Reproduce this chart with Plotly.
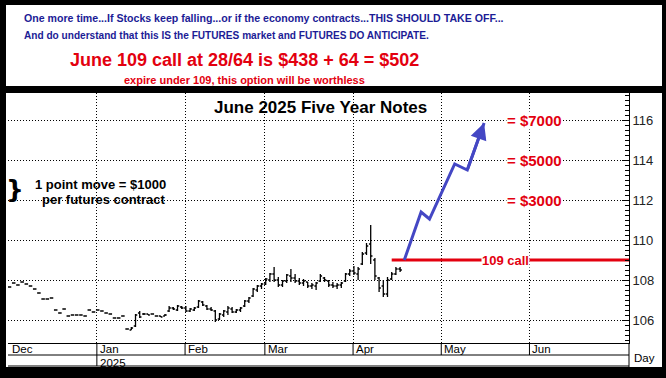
import pandas as pd
import plotly.graph_objects as go

# ---------------- data ----------------
first_bar_date = "2024-12-02"
holidays = ["2024-12-25", "2025-01-01", "2025-01-20", "2025-02-17",
            "2025-04-18", "2025-05-26", "2025-06-19", "2025-07-04"]

bar_high = [107.65, 107.85, 107.75, 107.9, 107.8, 107.7, 107.55, 107.35, 107.05, 107.05, 107.1,
            106.5, 106.35, 106.55, 106.2, 106.25, 106.25, 106.25, 106.2, 106.5, 106.4,
            106.5, 106.45, 106.35, 106.3, 106.1, 106.1, 106.2, 105.55, 105.65, 106.3, 106.45,
            106.35, 106.3, 106.3, 106.2, 106.2, 106.3, 106.7, 106.65, 106.75, 106.7,
            106.7, 106.6, 106.65, 107.0, 106.95, 106.75, 106.65, 106.5, 106.35, 106.5,
            106.7, 106.65, 106.55, 106.65, 107.0, 107.15, 107.6, 107.75, 107.85,
            108.1, 108.35, 108.65, 108.15, 108.0, 108.3, 108.55, 108.3, 108.1, 108.05,
            107.9, 107.85, 107.9, 108.3, 108.15, 108.0, 107.9, 107.85, 107.9, 108.35, 108.55,
            108.7, 108.65, 109.4, 109.85, 110.75, 109.1, 108.15, 108.0, 108.15, 108.4, 108.65, 108.65]
bar_low = [107.65, 107.85, 107.75, 107.9, 107.8, 107.7, 107.55, 107.35, 107.05, 107.05, 107.1,
           106.5, 106.35, 106.55, 106.2, 106.25, 106.25, 106.25, 106.2, 106.5, 106.4,
           106.5, 106.45, 106.35, 106.3, 106.1, 106.1, 106.2, 105.55, 105.5, 105.65, 106.1,
           106.25, 106.25, 106.3, 106.2, 106.15, 106.2, 106.4, 106.5, 106.45, 106.55,
           106.4, 106.4, 106.45, 106.6, 106.7, 106.5, 106.45, 105.9, 106.0, 106.15,
           106.25, 106.35, 106.35, 106.4, 106.65, 106.85, 107.15, 107.4, 107.55,
           107.75, 107.9, 107.9, 107.65, 107.65, 107.85, 107.9, 107.85, 107.75, 107.7,
           107.6, 107.55, 107.5, 107.9, 107.9, 107.65, 107.6, 107.55, 107.6, 107.9, 108.2,
           108.25, 108.0, 108.75, 109.25, 108.8, 108.0, 107.4, 107.15, 107.15, 108.0, 108.25, 108.4]
bar_open = [107.65, 107.85, 107.75, 107.9, 107.8, 107.7, 107.55, 107.35, 107.05, 107.05, 107.1,
            106.5, 106.35, 106.55, 106.2, 106.25, 106.25, 106.25, 106.2, 106.5, 106.4,
            106.5, 106.45, 106.35, 106.3, 106.1, 106.1, 106.2, 105.55, 105.5, 105.7, 106.35,
            106.3, 106.3, 106.3, 106.2, 106.2, 106.2, 106.45, 106.6, 106.5, 106.65,
            106.6, 106.45, 106.5, 106.65, 106.9, 106.7, 106.55, 106.45, 106.05, 106.25,
            106.4, 106.55, 106.4, 106.5, 106.7, 106.95, 107.2, 107.5, 107.7,
            107.8, 108.0, 108.3, 108.0, 107.75, 107.95, 108.2, 108.1, 107.95, 107.85,
            107.9, 107.7, 107.7, 107.95, 108.1, 107.95, 107.75, 107.7, 107.75, 107.95, 108.3,
            108.45, 108.3, 108.8, 109.35, 109.8, 109.0, 108.1, 107.7, 107.3, 108.05, 108.3, 108.55]
bar_close = [107.65, 107.85, 107.75, 107.9, 107.8, 107.7, 107.55, 107.35, 107.05, 107.05, 107.1,
             106.5, 106.35, 106.55, 106.2, 106.25, 106.25, 106.25, 106.2, 106.5, 106.4,
             106.5, 106.45, 106.35, 106.3, 106.1, 106.1, 106.2, 105.55, 105.6, 106.25, 106.15,
             106.3, 106.25, 106.3, 106.2, 106.15, 106.25, 106.6, 106.55, 106.7, 106.6,
             106.45, 106.55, 106.6, 106.95, 106.75, 106.55, 106.5, 106.0, 106.3, 106.45,
             106.6, 106.4, 106.5, 106.6, 106.95, 107.1, 107.55, 107.7, 107.8,
             108.05, 108.3, 108.0, 107.75, 107.95, 108.25, 108.1, 107.95, 107.85, 107.95,
             107.7, 107.75, 107.85, 108.2, 108.0, 107.75, 107.7, 107.75, 107.85, 108.3, 108.45,
             108.35, 108.55, 109.3, 109.7, 109.2, 108.2, 107.6, 107.3, 108.0, 108.3, 108.55, 108.5]

strike = 109
call_line_start = "2025-04-14"
call_label_date = "2025-05-22"
point_value = 1000
target_levels = [112, 114, 116]
target_label_date = "2025-06-03"

arrow_dates = ["2025-04-17", "2025-04-24", "2025-04-28", "2025-05-06", "2025-05-09", "2025-05-15"]
arrow_values = [109.0, 111.4, 111.05, 113.8, 113.5, 115.85]

month_labels = ["Dec", "Jan", "Feb", "Mar", "Apr", "May", "Jun"]
month_starts = ["2024-12-01", "2025-01-01", "2025-02-01", "2025-03-01",
                "2025-04-01", "2025-05-01", "2025-06-01"]
year_label = "2025"
y_ticks = [106, 108, 110, 112, 114, 116]

# ---------------- trading-day scale ----------------
days = [d for d in pd.bdate_range(first_bar_date, "2025-07-20")
        if d.strftime("%Y-%m-%d") not in holidays]


def pos(date_str):
    t = pd.Timestamp(date_str)
    for i, d in enumerate(days):
        if d >= t:
            return i
    return len(days) - 1


bar_x = list(range(len(bar_high)))
month_pos = [pos(m) - 0.2 for m in month_starts]

BLUE_TXT = "#1c1c96"
RED = "#e3000f"
ARROW = "#4447c4"
FONT = "Liberation Sans, Arial, sans-serif"

# plot area in pixels: x 8..629, y 93..343
PL, PR, PT, PB = 8, 629, 93, 343
W, H = 666, 378


def px(xp):
    return (xp - PL) / (PR - PL)


def py(yp):
    return (PB - yp) / (PB - PT)


fig = go.Figure()

fig.add_trace(go.Ohlc(
    x=bar_x, open=bar_open, high=bar_high, low=bar_low, close=bar_close,
    increasing=dict(line=dict(color="black", width=1.3)),
    decreasing=dict(line=dict(color="black", width=1.3)),
    tickwidth=0.42, showlegend=False, hoverinfo="skip"))

# 109 call line
fig.add_trace(go.Scatter(
    x=[pos(call_line_start), pos("2025-07-20")], y=[strike, strike],
    mode="lines", line=dict(color=RED, width=3), showlegend=False, hoverinfo="skip"))

# blue projection arrow
ax_pts = [pos(d) for d in arrow_dates]
fig.add_trace(go.Scatter(
    x=ax_pts, y=arrow_values,
    mode="lines", line=dict(color=ARROW, width=3), showlegend=False, hoverinfo="skip"))

annotations = []
annotations.append(dict(
    x=ax_pts[-1], y=arrow_values[-1], ax=ax_pts[-2], ay=arrow_values[-2],
    xref="x", yref="y", axref="x", ayref="y", text="", showarrow=True,
    arrowhead=2, arrowsize=1.1, arrowwidth=3, arrowcolor=ARROW))


def note(x, y, text, size, color, xanchor="center", xref="paper", yref="paper",
         family=FONT, bg=None, xshift=0):
    d = dict(x=x, y=y, xref=xref, yref=yref, text=text, showarrow=False,
             xanchor=xanchor, yanchor="middle", xshift=xshift,
             font=dict(family=family, size=size, color=color))
    if bg:
        d.update(bgcolor=bg, borderpad=0)
    annotations.append(d)


note(pos(call_label_date), strike, "<b>%d call</b>" % strike, 13, RED,
     xref="x", yref="y", bg="white")
for lvl in target_levels:
    note(pos(target_label_date), lvl, "<b>= $%d</b>" % ((lvl - strike) * point_value), 15, RED,
         xref="x", yref="y", bg="white")

# chart title and notes
note(px(320), py(107), "<b>June 2025 Five Year Notes</b>", 17, "black")
note(px(33), py(184), "<b>1 point move = $%d</b>" % point_value, 13, "black", xanchor="left")
note(px(40), py(199), "<b>per futures contract</b>", 13, "black", xanchor="left")
note(px(15), py(189), "<b>}</b>", 25, "black", family="DejaVu Sans")

# header texts
note(px(22), py(18),
     "<b>One more time...If Stocks keep falling...or if the economy contracts...THIS SHOULD TAKE OFF...</b>",
     10.6, BLUE_TXT, xanchor="left")
note(px(22), py(35),
     "<b>And do understand that this IS the FUTURES market and FUTURES DO ANTICIPATE.</b>",
     10.1, BLUE_TXT, xanchor="left")
note(px(244), py(60), "<b>June 109 call at 28/64 is $438 + 64 = $502</b>", 18, RED)
note(px(244), py(80), "<b>expire under 109, this option will be worthless</b>", 11, RED)

# month / year labels in the bottom strip
for lab, mp in zip(month_labels, month_pos):
    note(max(mp, -0.3), py(348.5), lab, 11.5, "black", xanchor="left", xref="x", xshift=1)
note(month_pos[1], py(362.5), year_label, 11.5, "black", xanchor="left", xref="x", xshift=1)
note(px(645), py(358), "Day", 11.5, "black")

shapes = []
# strip lines
for yp in (355, 366):
    shapes.append(dict(type="line", xref="paper", yref="paper", x0=0, x1=1,
                       y0=py(yp), y1=py(yp), line=dict(color="black", width=1)))
for i, mp in enumerate(month_pos[1:], start=1):
    y_end = py(366) if i == 1 else py(355)
    shapes.append(dict(type="line", xref="x", yref="paper", x0=mp, x1=mp,
                       y0=0, y1=y_end, line=dict(color="black", width=1)))
shapes.append(dict(type="line", xref="paper", yref="paper", x0=1, x1=1,
                   y0=py(368), y1=0, line=dict(color="black", width=1)))
# black frame
frame = [(0, 0, 666, 5), (0, 86, 666, 93), (0, 367, 666, 378), (0, 0, 6, 378), (662, 0, 666, 378)]
for x0, y0, x1, y1 in frame:
    shapes.append(dict(type="rect", xref="paper", yref="paper", x0=px(x0), x1=px(x1),
                       y0=py(y0), y1=py(y1), fillcolor="black", line=dict(width=0), layer="above"))

fig.update_layout(
    width=W, height=H,
    margin=dict(l=PL, r=W - PR, t=PT, b=H - PB, pad=0),
    paper_bgcolor="white", plot_bgcolor="white",
    showlegend=False,
    annotations=annotations, shapes=shapes,
    xaxis=dict(
        range=[-0.36, 147.5], rangeslider=dict(visible=False),
        tickvals=month_pos[1:], showticklabels=False, ticks="",
        showgrid=True, gridcolor="black", gridwidth=1, griddash="1px,2px",
        showline=True, linecolor="black", linewidth=1, zeroline=False, fixedrange=True),
    yaxis=dict(
        side="right", range=[104.85, 117.35], tickvals=y_ticks,
        ticks="inside", ticklen=7, tickcolor="black", tickwidth=1,
        minor=dict(dtick=0.25, ticks="inside", ticklen=4, tickcolor="black", showgrid=False),
        showgrid=True, gridcolor="black", gridwidth=1, griddash="1px,2px",
        showline=True, linecolor="black", linewidth=1, zeroline=False,
        tickfont=dict(family=FONT, size=13, color="#222222"), fixedrange=True),
)

fig.write_html("out.html", config={"displayModeBar": False},
               post_script="document.body.style.margin='0';document.body.style.overflow='hidden';")
